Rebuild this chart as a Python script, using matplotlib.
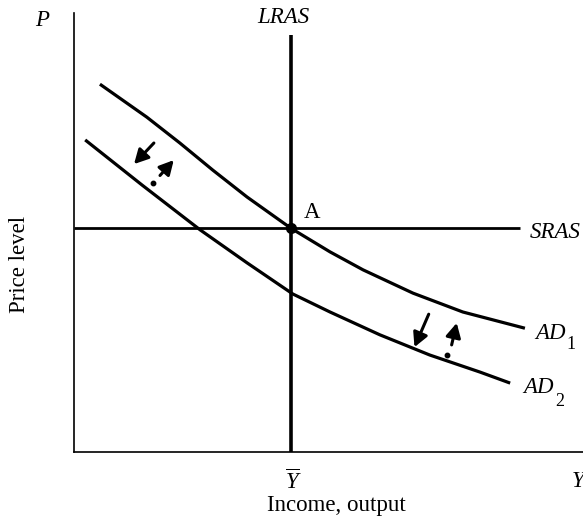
import matplotlib
matplotlib.use("Agg")
import matplotlib.pyplot as plt

plt.rcParams["font.family"] = ["Liberation Serif", "DejaVu Serif"]
plt.rcParams["mathtext.fontset"] = "custom"
plt.rcParams["mathtext.rm"] = "Liberation Serif"
plt.rcParams["mathtext.it"] = "Liberation Serif:italic"
plt.rcParams["mathtext.bf"] = "Liberation Serif:bold"

# curves (output on x, price level on y, 0..100 units)
ad1_x = [5.1, 14.3, 20.8, 27.3, 34.0, 42.6, 50.3, 56.8, 66.6, 76.4, 88.6]
ad1_y = [83.8, 76.3, 70.4, 64.2, 58.1, 51.0, 45.6, 41.5, 36.2, 31.9, 28.2]
ad2_x = [2.2, 13.4, 24.8, 34.0, 43.0, 50.3, 60.1, 69.9, 79.8, 85.7]
ad2_y = [71.1, 60.8, 50.6, 43.1, 36.0, 31.9, 26.7, 22.1, 18.2, 15.7]

lras_x = 42.6
lras_top = 95.0
sras_y = 51.0
sras_end = 87.6

# shift arrows: (tail, tip)
solid_arrows = [((15.7, 70.4), (11.8, 65.6)), ((69.7, 31.4), (66.9, 23.9))]
dashed_dots = [(15.5, 61.3), (73.3, 22.1)]
dashed_arrows = [((16.9, 63.0), (19.6, 66.5)), ((74.2, 24.4), (75.2, 29.4))]

fig = plt.figure(figsize=(5.83, 5.17), dpi=100)
ax = fig.add_axes([0.1269, 0.1257, 0.873, 0.849])
ax.set_xlim(0, 100)
ax.set_ylim(0, 100)
for side in ("top", "right"):
    ax.spines[side].set_visible(False)
for side in ("left", "bottom"):
    ax.spines[side].set_linewidth(1.2)
ax.set_xticks([]); ax.set_yticks([])

ax.plot(ad1_x, ad1_y, color="k", lw=2.3, solid_capstyle="butt", solid_joinstyle="round")
ax.plot(ad2_x, ad2_y, color="k", lw=2.3, solid_capstyle="butt", solid_joinstyle="round")
ax.plot([lras_x, lras_x], [0, lras_top], color="k", lw=2.6, solid_capstyle="butt")
ax.plot([0, sras_end], [sras_y, sras_y], color="k", lw=2.0, solid_capstyle="butt")
ax.plot([lras_x], [sras_y], "o", color="k", ms=7)

arrow_style = dict(arrowstyle="-|>,head_length=0.85,head_width=0.45", lw=2.2,
                   color="k", shrinkA=0, shrinkB=0, mutation_scale=10)
for tail, tip in solid_arrows:
    ax.annotate("", xy=tip, xytext=tail, arrowprops=arrow_style)
for tail, tip in dashed_arrows:
    ax.annotate("", xy=tip, xytext=tail, arrowprops=arrow_style)
for dx, dy in dashed_dots:
    ax.plot([dx], [dy], "o", color="k", ms=3.2)

fs = 16.5
ax.text(-6.3, 98.2, "P", style="italic", fontsize=fs, ha="center", va="center", clip_on=False)
ax.text(41.1, 99.1, "LRAS", style="italic", fontsize=fs, ha="center", va="center", clip_on=False)
ax.text(45.2, 54.6, "A", fontsize=fs, ha="left", va="center")
ax.text(89.6, 50.1, "SRAS", style="italic", fontsize=fs, ha="left", va="center", clip_on=False)
ax.text(90.6, 27.1, "AD", style="italic", fontsize=fs, ha="left", va="center", clip_on=False)
ax.text(96.8, 24.4, "1", fontsize=13, ha="left", va="center", clip_on=False)
ax.text(88.2, 14.6, "AD", style="italic", fontsize=fs, ha="left", va="center", clip_on=False)
ax.text(94.6, 11.4, "2", fontsize=13, ha="left", va="center", clip_on=False)
ax.text(43.2, -6.8, r"$\overline{Y}$", fontsize=fs, ha="center", va="center", clip_on=False)
ax.text(99.0, -6.8, "Y", style="italic", fontsize=fs, ha="center", va="center", clip_on=False)

fig.text(336 / 583, 1 - 505 / 517, "Income, output", fontsize=fs, ha="center", va="center")
fig.text(20 / 583, 1 - 264 / 517, "Price level", fontsize=fs, ha="center", va="center",
         rotation=90)

fig.savefig("out.png", dpi=100)
